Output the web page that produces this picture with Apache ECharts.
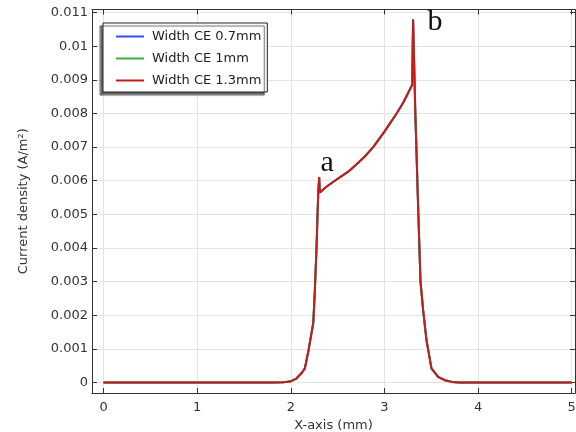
<!DOCTYPE html>
<html>
<head>
<meta charset="utf-8">
<script src="https://cdn.jsdelivr.net/npm/echarts@6/dist/echarts.min.js"></script>
<style>html,body{margin:0;padding:0;background:#fff}#c{width:576px;height:432px}</style>
</head>
<body>
<div id="c"></div>
<script>
// ---- data ----
var seriesNames = ['Width CE 0.7mm', 'Width CE 1mm', 'Width CE 1.3mm'];
var xs = [0, 0.5, 1.0, 1.5, 1.8, 1.92, 1.99, 2.06, 2.12, 2.15, 2.19, 2.24, 2.257, 2.275, 2.293, 2.303, 2.31,
          2.38, 2.47, 2.613, 2.70, 2.79, 2.88, 3.0, 3.13, 3.20, 3.253, 3.296, 3.306, 3.33, 3.36, 3.385, 3.413, 3.449,
          3.502, 3.573, 3.644, 3.72, 3.8, 4.0, 4.5, 5.0];
var yCE07 = [0, 0, 0, 0, 0, 0.00001, 0.00003, 0.00012, 0.00030, 0.00042, 0.00097, 0.00177, 0.00275, 0.00404, 0.00564, 0.00611, 0.00565,
          0.00582, 0.00600, 0.00627, 0.00648, 0.00672, 0.00700, 0.00746, 0.00800, 0.00832, 0.00861, 0.00885, 0.01079, 0.00800, 0.00520, 0.00300, 0.00216, 0.00126,
          0.00042, 0.00017, 0.00007, 0.00002, 0, 0, 0, 0];
var yCE10 = yCE07.slice();
var yCE13 = yCE07.slice();
var xTicks = [0, 1, 2, 3, 4, 5];
var yTicks = [0, 0.001, 0.002, 0.003, 0.004, 0.005, 0.006, 0.007, 0.008, 0.009, 0.01, 0.011];
var peakA = 15, peakB = 28; // indices of annotated peaks
var annA = 'a', annB = 'b';

function pairs(ys) { return xs.map(function (x, i) { return [x, ys[i]]; }); }

var chart = echarts.init(document.getElementById('c'), null, {renderer: 'canvas'});
var font = 'DejaVu Sans';
var axisCol = '#333';
var gridCol = '#e4e4e4';
var xMin = -0.123, xMax = 5.035, yMin = -0.00031, yMax = 0.01109;

function lineSeries(name, ys, color, extra) {
  var s = {
    name: name, type: 'line', data: pairs(ys), showSymbol: false, symbol: 'none',
    lineStyle: {color: color, width: 2}, itemStyle: {color: color}, animation: false,
    xAxisIndex: 0, yAxisIndex: 0
  };
  if (extra) for (var k in extra) s[k] = extra[k];
  return s;
}

var option = {
  animation: false,
  backgroundColor: '#fff',
  grid: {left: 92, right: 1, top: 9.5, bottom: 39, containLabel: false, outerBoundsMode: 'none'},
  legend: {
    orient: 'vertical', left: 103, top: 23,
    data: seriesNames,
    icon: 'rect', itemWidth: 28, itemHeight: 2, itemGap: 9,
    padding: [7, 6, 5, 13],
    backgroundColor: '#fff', borderColor: '#222', borderWidth: 1, borderRadius: 0,
    shadowColor: 'rgba(0,0,0,0.6)', shadowBlur: 1, shadowOffsetX: -3, shadowOffsetY: 3,
    textStyle: {fontFamily: font, fontSize: 13, color: '#222', padding: [0, 0, 0, 3]}
  },
  xAxis: [{
    type: 'value', min: xMin, max: xMax, position: 'bottom',
    name: 'X-axis (mm)', nameLocation: 'middle', nameGap: 23,
    nameTextStyle: {fontFamily: font, fontSize: 13, color: '#333'},
    axisLine: {show: true, onZero: false, lineStyle: {color: axisCol, width: 1}},
    axisTick: {show: true, inside: true, length: 5, customValues: xTicks, lineStyle: {color: axisCol}},
    axisLabel: {customValues: xTicks, fontFamily: font, fontSize: 13, color: '#333', margin: 8, formatter: function (v) { return String(Math.round(v)); }},
    splitLine: {show: true, lineStyle: {color: gridCol, width: 1}}
  }, {
    type: 'value', min: xMin, max: xMax, position: 'top',
    axisLine: {show: true, onZero: false, lineStyle: {color: axisCol, width: 1}},
    axisTick: {show: true, inside: true, length: 5, customValues: xTicks, lineStyle: {color: axisCol}},
    axisLabel: {show: false, customValues: xTicks},
    splitLine: {show: false}
  }],
  yAxis: [{
    type: 'value', min: yMin, max: yMax, position: 'left',
    name: 'Current density (A/m\u00b2)', nameLocation: 'middle', nameGap: 62,
    nameTextStyle: {fontFamily: font, fontSize: 13, color: '#333'},
    axisLine: {show: true, onZero: false, lineStyle: {color: axisCol, width: 1}},
    axisTick: {show: true, inside: true, length: 5, customValues: yTicks, lineStyle: {color: axisCol}},
    axisLabel: {customValues: yTicks, fontFamily: font, fontSize: 13, color: '#333', margin: 4,
      formatter: function (v) { return String(+v.toFixed(3)); }},
    splitLine: {show: true, lineStyle: {color: gridCol, width: 1}}
  }, {
    type: 'value', min: yMin, max: yMax, position: 'right',
    axisLine: {show: true, onZero: false, lineStyle: {color: axisCol, width: 1}},
    axisTick: {show: true, inside: true, length: 5, customValues: yTicks, lineStyle: {color: axisCol}},
    axisLabel: {show: false, customValues: yTicks},
    splitLine: {show: false}
  }],
  series: [
    lineSeries(seriesNames[0], yCE07, '#2f4fe0'),
    lineSeries(seriesNames[1], yCE10, '#3cb043'),
    lineSeries(seriesNames[2], yCE13, '#c81a1a', {
      markPoint: {
        symbol: 'circle', symbolSize: 0, silent: true,
        label: {show: true, position: 'inside', fontFamily: 'Liberation Serif', fontSize: 30, color: '#111'},
        data: [
          {coord: [xs[peakA], yCE13[peakA]], value: annA, label: {formatter: annA, offset: [8, -14]}},
          {coord: [xs[peakB], yCE13[peakB]], value: annB, label: {formatter: annB, offset: [22, 3]}}
        ]
      }
    })
  ]
};
chart.setOption(option);
</script>
</body>
</html>
